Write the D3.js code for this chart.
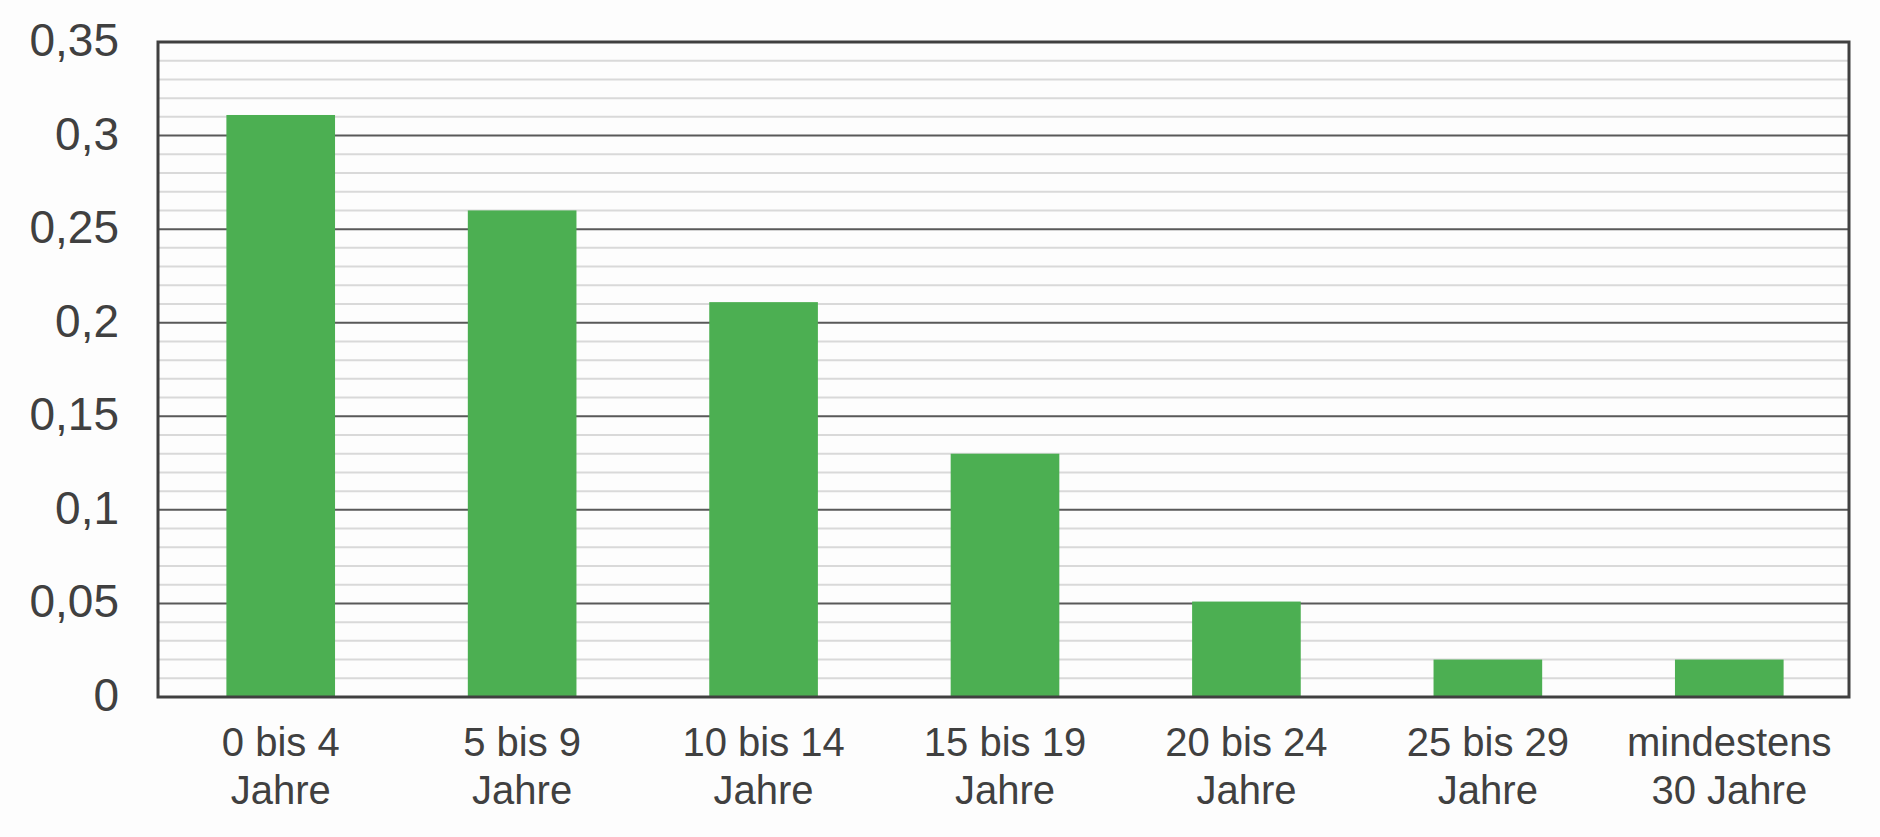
<!DOCTYPE html>
<html>
<head>
<meta charset="utf-8">
<script src="https://cdn.jsdelivr.net/npm/d3@7"></script>
<style>
  html, body { margin: 0; padding: 0; background: #fdfdfd; }
  svg { display: block; }
  text { font-family: "Liberation Sans", Arial, sans-serif; fill: #404040; }
</style>
</head>
<body>
<svg id="chart" width="1880" height="837"></svg>
<script>
const categories = [
  ["0 bis 4", "Jahre"],
  ["5 bis 9", "Jahre"],
  ["10 bis 14", "Jahre"],
  ["15 bis 19", "Jahre"],
  ["20 bis 24", "Jahre"],
  ["25 bis 29", "Jahre"],
  ["mindestens", "30 Jahre"]
];
const values = [0.311, 0.26, 0.211, 0.13, 0.051, 0.02, 0.02];
const majorTicks = [0, 0.05, 0.1, 0.15, 0.2, 0.25, 0.3, 0.35];
const minorTicks = d3.range(0, 36).map(i => i / 100);
const tickLabels = ["0", "0,05", "0,1", "0,15", "0,2", "0,25", "0,3", "0,35"];

const svg = d3.select("#chart");
const plot = { left: 158, right: 1849, top: 42, bottom: 697 };

const y = d3.scaleLinear().domain([0, 0.35]).range([plot.bottom, plot.top]);
const x = d3.scaleBand()
  .domain(categories.map((c, i) => i))
  .range([plot.left + 2, plot.right + 1])
  .paddingInner(0.55)
  .paddingOuter(0.275);

// minor grid
svg.append("g").selectAll("line").data(minorTicks.filter(t => Math.round(t * 100) % 5 !== 0))
  .join("line")
  .attr("x1", plot.left).attr("x2", plot.right)
  .attr("y1", d => y(d)).attr("y2", d => y(d))
  .attr("stroke", "#d9d9d9").attr("stroke-width", 2);

// major grid
svg.append("g").selectAll("line").data(majorTicks.slice(1, -1))
  .join("line")
  .attr("x1", plot.left).attr("x2", plot.right)
  .attr("y1", d => y(d)).attr("y2", d => y(d))
  .attr("stroke", "#595959").attr("stroke-width", 2);

// bars
svg.append("g").selectAll("rect").data(values)
  .join("rect")
  .attr("x", (d, i) => x(i))
  .attr("width", x.bandwidth())
  .attr("y", d => y(d))
  .attr("height", d => y(0) - y(d))
  .attr("fill", "#4caf52");

// border
svg.append("rect")
  .attr("x", plot.left).attr("y", plot.top)
  .attr("width", plot.right - plot.left).attr("height", plot.bottom - plot.top)
  .attr("fill", "none").attr("stroke", "#404040").attr("stroke-width", 3);

// y tick labels
svg.append("g").selectAll("text").data(majorTicks)
  .join("text")
  .attr("x", 119)
  .attr("y", d => y(d) + 14)
  .attr("text-anchor", "end")
  .attr("font-size", 46)
  .text((d, i) => tickLabels[i]);

// x labels
const xl = svg.append("g").selectAll("text").data(categories)
  .join("text")
  .attr("text-anchor", "middle")
  .attr("font-size", 40)
  .attr("transform", (d, i) => `translate(${x(i) + x.bandwidth() / 2},0)`);
xl.append("tspan").attr("x", 0).attr("y", 756).text(d => d[0]);
xl.append("tspan").attr("x", 0).attr("y", 804).text(d => d[1]);
</script>
</body>
</html>
